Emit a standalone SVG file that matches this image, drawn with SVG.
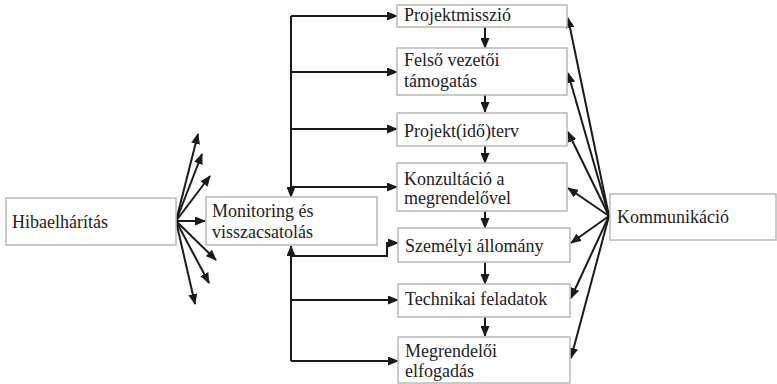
<svg xmlns="http://www.w3.org/2000/svg" width="777" height="384" viewBox="0 0 777 384">
  <style>
    .box { fill: #ffffff; stroke: #bdbdbd; stroke-width: 1.6; }
    text { font-family: 'Liberation Serif', 'DejaVu Serif', 'Times New Roman', serif; font-size: 18px; fill: #222222; }
    .con { fill: none; stroke: #1a1a1a; stroke-width: 2; marker-end: url(#ah); }
  </style>
  <defs>
    <marker id="ah" markerUnits="userSpaceOnUse" markerWidth="11" markerHeight="9" refX="10" refY="4.5" orient="auto">
      <path d="M0,0 L11,4.5 L0,9 z" fill="#1a1a1a"/>
    </marker>
  </defs>
  <rect width="777" height="384" fill="#ffffff"/>

  <g id="connectors">
    <!-- fan from Hibaelhárítás -->
    <path class="con" d="M176,221 L198,134"/>
    <path class="con" d="M176,221 L202,154"/>
    <path class="con" d="M176,221 L210,176"/>
    <path class="con" d="M176,221 L205,221"/>
    <path class="con" d="M176,221 L216,260"/>
    <path class="con" d="M176,221 L209,283"/>
    <path class="con" d="M176,221 L195,304"/>

    <!-- upper distribution bus -->
    <path class="con" d="M291,16 V197"/>
    <path class="con" d="M291,16 H397"/>
    <path class="con" d="M291,72 H397"/>
    <path class="con" d="M291,129 H397"/>
    <path class="con" d="M291,187 H397"/>

    <!-- lower feedback bus -->
    <path class="con" d="M291,361 V246"/>
    <path class="con" d="M291,256 H387 V243 H398"/>
    <path class="con" d="M291,300 H398"/>
    <path class="con" d="M291,361 H398"/>

    <!-- chain of steps -->
    <path class="con" d="M485,27 V48"/>
    <path class="con" d="M485,95 V112"/>
    <path class="con" d="M485,146 V163"/>
    <path class="con" d="M485,211 V228"/>
    <path class="con" d="M485,262 V284"/>
    <path class="con" d="M485,317 V336"/>

    <!-- fan from Kommunikáció -->
    <path class="con" d="M609,216 L568,18"/>
    <path class="con" d="M609,216 L568,73"/>
    <path class="con" d="M609,216 L568,132"/>
    <path class="con" d="M609,216 L568,188"/>
    <path class="con" d="M609,216 L571,243"/>
    <path class="con" d="M609,216 L571,298"/>
    <path class="con" d="M609,216 L571,358"/>
  </g>

  <g id="hibaelharitas">
    <rect class="box" x="6" y="198" width="170" height="47"/>
    <text x="12" y="228" font-family="Liberation Serif">Hibaelhárítás</text>
  </g>

  <g id="monitoring">
    <rect class="box" x="206" y="197" width="171" height="48"/>
    <text x="212" y="217">Monitoring és</text>
    <text x="212" y="238">visszacsatolás</text>
  </g>

  <g id="projektmisszio">
    <rect class="box" x="397" y="5" width="170" height="22"/>
    <text x="404" y="21">Projektmisszió</text>
  </g>

  <g id="felso-vezetoi">
    <rect class="box" x="397" y="48" width="170" height="47"/>
    <text x="404" y="66">Felső vezetői</text>
    <text x="404" y="87">támogatás</text>
  </g>

  <g id="projektterv">
    <rect class="box" x="397" y="113" width="170" height="33"/>
    <text x="404" y="137">Projekt(idő)terv</text>
  </g>

  <g id="konzultacio">
    <rect class="box" x="397" y="163" width="170" height="48"/>
    <text x="404" y="185">Konzultáció a</text>
    <text x="404" y="204">megrendelővel</text>
  </g>

  <g id="szemelyi">
    <rect class="box" x="398" y="228" width="172" height="34"/>
    <text x="405" y="252">Személyi állomány</text>
  </g>

  <g id="technikai">
    <rect class="box" x="398" y="284" width="172" height="33"/>
    <text x="405" y="305">Technikai feladatok</text>
  </g>

  <g id="megrendeloi">
    <rect class="box" x="398" y="337" width="172" height="46"/>
    <text x="405" y="357">Megrendelői</text>
    <text x="405" y="377">elfogadás</text>
  </g>

  <g id="kommunikacio">
    <rect class="box" x="610" y="194" width="166" height="46"/>
    <text x="617" y="223">Kommunikáció</text>
  </g>
</svg>
